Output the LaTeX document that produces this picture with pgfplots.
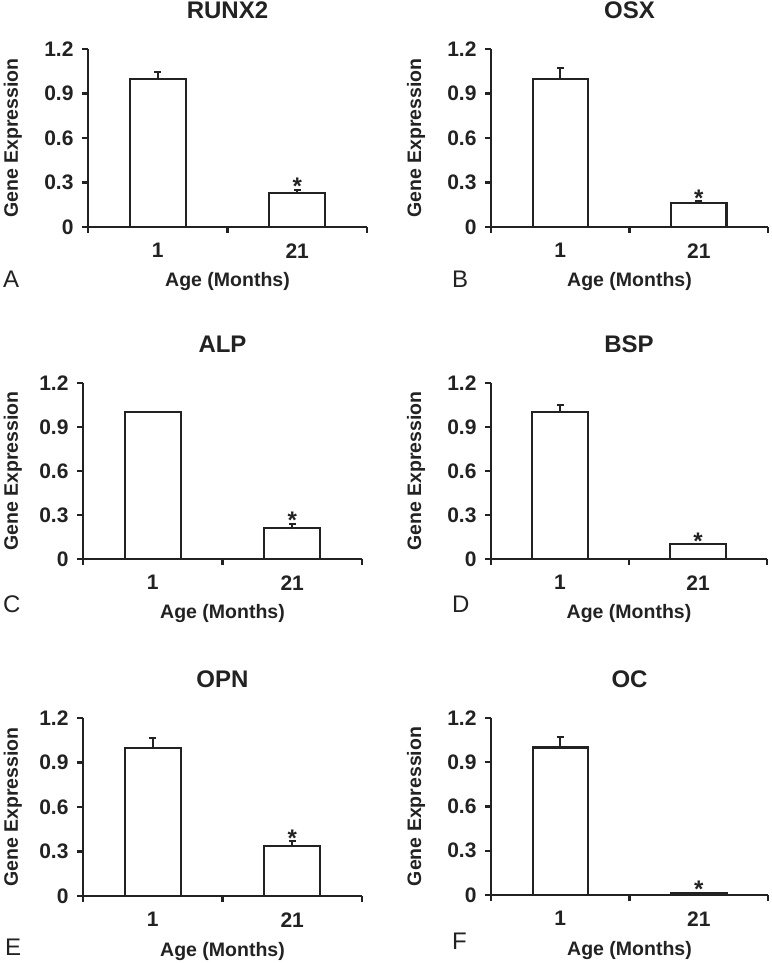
\documentclass[border=0pt]{standalone}
\usepackage{pgfplots}
\pgfplotsset{compat=1.18}
\usepackage{fontspec}
\setmainfont{Liberation Sans}
\definecolor{ink}{HTML}{222222}
\pgfplotsset{
  panel/.style={
    scale only axis, width=279pt, height=178pt,
    anchor=south west,
    xmin=0, xmax=2, ymin=0, ymax=1.2,
    axis x line*=bottom, axis y line*=left,
    axis line style={line width=2.1pt, draw=ink},
    tick align=outside,
    xtick={0.5,1.5}, xticklabels={\textbf{1},\textbf{21}},
    major x tick style={draw=none},
    minor xtick={0,1,2},
    major tick length=6pt, minor tick length=6pt,
    tick style={line width=2.1pt, draw=ink},
    ytick={0,0.3,0.6,0.9,1.2},
    yticklabels={\textbf{0},\textbf{0.3},\textbf{0.6},\textbf{0.9},\textbf{1.2}},
    tick label style={font=\fontsize{21}{21}\selectfont\bfseries, text=ink},
    xticklabel style={yshift=-7pt},
    yticklabel style={xshift=-5pt},
    clip=false,
    title style={at={([yshift=24pt]axis description cs:0.5,1)}, anchor=base,
      font=\fontsize{24}{24}\selectfont\bfseries, text=ink},
    xlabel={Age (Months)},
    xlabel style={at={([yshift=-60pt]axis description cs:0.5,0)}, anchor=base,
      font=\fontsize{19.5}{19.5}\selectfont\bfseries, text=ink},
    ylabel={Gene Expression},
    ylabel style={at={([xshift=-70pt]axis description cs:0,0.5)}, anchor=base,
      font=\fontsize{19.5}{19.5}\selectfont\bfseries, text=ink},
  },
  nearlab/.style={ylabel style={at={([xshift=-65pt]axis description cs:0,0.5)}}},
  bars/.style={ybar, bar width=0.4, fill=white, draw=ink, line width=2.1pt,
    error bars/.cd, y dir=plus, y explicit,
    error bar style={line width=2.1pt, draw=ink},
    error mark options={rotate=90, line width=2.1pt, mark size=3.5pt, draw=ink}},
  star/.style={draw=none, mark=none, nodes near coords={\textbf{*}},
    every node near coord/.append style={anchor=base, yshift=-5pt, inner sep=0pt,
      font=\fontsize{24}{24}\selectfont\bfseries, text=ink}},
}
\begin{document}
\begin{tikzpicture}
\useasboundingbox (0,0) rectangle (771pt,963pt);
% A RUNX2
\begin{axis}[panel, at={(88pt,736pt)}, title={RUNX2}]
\addplot[bars] table[x=x,y=y,y error=e] {
x y e
0.5 1.00 0.045
1.5 0.23 0.02
};
\addplot[star] coordinates {(1.5,0.25)};
\end{axis}
% B OSX
\begin{axis}[panel, at={(491pt,736pt)}, width=277pt, title={OSX}]
\addplot[bars] table[x=x,y=y,y error=e] {
x y e
0.5 1.00 0.07
1.5 0.16 0.015
};
\addplot[star] coordinates {(1.5,0.175)};
\end{axis}
% C ALP
\begin{axis}[panel, nearlab, at={(83pt,404pt)}, height=176pt, title={ALP}]
\addplot[bars] table[x=x,y=y,y error=e] {
x y e
0.5 1.00 0.0
1.5 0.21 0.03
};
\addplot[star] coordinates {(1.5,0.24)};
\end{axis}
% D BSP
\begin{axis}[panel, at={(491pt,404pt)}, width=276pt, height=176pt, title={BSP}]
\addplot[bars] table[x=x,y=y,y error=e] {
x y e
0.5 1.00 0.05
1.5 0.10 0.0
};
\addplot[star] coordinates {(1.5,0.10)};
\end{axis}
% E OPN
\begin{axis}[panel, nearlab, at={(83pt,67pt)}, title={OPN}]
\addplot[bars] table[x=x,y=y,y error=e] {
x y e
0.5 1.00 0.065
1.5 0.34 0.03
};
\addplot[star] coordinates {(1.5,0.37)};
\end{axis}
% F OC
\begin{axis}[panel, at={(491pt,68pt)}, width=277pt, height=177pt, title={OC}]
\addplot[bars] table[x=x,y=y,y error=e] {
x y e
0.5 1.00 0.07
1.5 0.01 0.005
};
\addplot[star] coordinates {(1.5,0.015)};
\end{axis}
\node[anchor=base west, inner sep=0pt, font=\fontsize{24}{24}\selectfont, text=ink] at (3pt,675pt) {A};
\node[anchor=base west, inner sep=0pt, font=\fontsize{24}{24}\selectfont, text=ink] at (452pt,675pt) {B};
\node[anchor=base west, inner sep=0pt, font=\fontsize{24}{24}\selectfont, text=ink] at (3pt,350pt) {C};
\node[anchor=base west, inner sep=0pt, font=\fontsize{24}{24}\selectfont, text=ink] at (5pt,8pt) {E};
\node[anchor=base west, inner sep=0pt, font=\fontsize{24}{24}\selectfont, text=ink] at (452pt,350pt) {D};
\node[anchor=base west, inner sep=0pt, font=\fontsize{24}{24}\selectfont, text=ink] at (452pt,13pt) {F};
\end{tikzpicture}
\end{document}
